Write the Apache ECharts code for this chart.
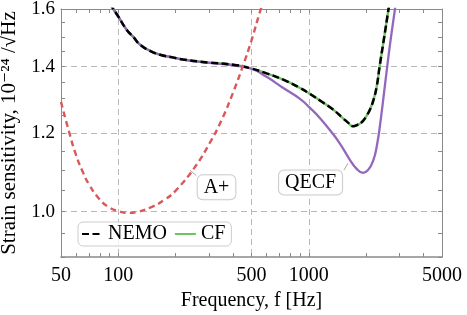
<!DOCTYPE html>
<html>
<head>
<meta charset="utf-8">
<script src="https://cdn.jsdelivr.net/npm/echarts@6/dist/echarts.min.js"></script>
<style>html,body{margin:0;padding:0;background:#fff;}#c{width:467px;height:315px;}</style>
</head>
<body>
<div id="c"></div>
<script>
// ---- data ----
var freqAplus = [50, 55, 60, 65, 70, 80, 90, 100, 113, 125, 150, 175, 200, 250, 300, 350, 400, 450, 500, 560, 600];
var valAplus  = [1.29, 1.205, 1.14, 1.097, 1.066, 1.028, 1.009, 1.001, 0.997, 0.999, 1.011, 1.028, 1.050, 1.106, 1.170, 1.239, 1.318, 1.401, 1.488, 1.60, 1.66];

var freqNemo = [90, 94.1, 100, 110.5, 120, 130, 146.6, 165.4, 190, 218.7, 300, 400, 490, 600, 734, 894, 1013, 1150, 1341, 1508, 1600, 1705, 1800, 1900, 2000, 2100, 2185, 2270, 2352, 2480, 2619, 2700];
var valNemo  = [1.622, 1.6, 1.572, 1.525, 1.499, 1.473, 1.452, 1.439, 1.431, 1.423, 1.413, 1.406, 1.395, 1.378, 1.358, 1.333, 1.314, 1.293, 1.267, 1.242, 1.230, 1.219, 1.223, 1.231, 1.247, 1.269, 1.296, 1.336, 1.40, 1.494, 1.60, 1.667];
var valCF    = [1.622, 1.6, 1.572, 1.525, 1.499, 1.473, 1.452, 1.439, 1.431, 1.423, 1.413, 1.406, 1.395, 1.378, 1.358, 1.333, 1.314, 1.293, 1.267, 1.242, 1.230, 1.219, 1.223, 1.231, 1.247, 1.269, 1.296, 1.336, 1.40, 1.494, 1.60, 1.667];

var freqQecf = [90, 94.1, 100, 110.5, 120, 130, 146.6, 165.4, 190, 218.7, 300, 400, 500, 600, 734.6, 898.6, 1014, 1145, 1340, 1458, 1586, 1645, 1768, 1924, 2045, 2172, 2279, 2391, 2510, 2666, 2833, 2937];
var valQecf  = [1.622, 1.6, 1.572, 1.525, 1.499, 1.473, 1.452, 1.439, 1.431, 1.423, 1.412, 1.404, 1.393, 1.367, 1.332, 1.299, 1.272, 1.242, 1.197, 1.170, 1.140, 1.127, 1.106, 1.094, 1.101, 1.124, 1.167, 1.243, 1.342, 1.473, 1.601, 1.69];

var xTickValues  = [50, 60, 70, 80, 90, 100, 200, 300, 400, 500, 600, 700, 800, 900, 1000, 2000, 3000, 4000, 5000];
var xLabelValues = [50, 100, 500, 1000, 5000];
var xLabelTexts  = ['50', '100', '500', '1000', '5000'];
var xGridValues  = [100, 500, 1000];

var yTickValues  = [0.9, 0.95, 1.0, 1.05, 1.1, 1.15, 1.2, 1.25, 1.3, 1.35, 1.4, 1.45, 1.5, 1.55, 1.6];
var yLabelValues = [1.0, 1.2, 1.4, 1.6];
var yLabelTexts  = ['1.0', '1.2', '1.4', '1.6'];
var yGridValues  = [1.0, 1.2, 1.4];

function zip(a, b) { return a.map(function (v, i) { return [v, b[i]]; }); }
function labelFor(values, texts) {
  return function (v) {
    for (var i = 0; i < values.length; i++) { if (Math.abs(values[i] - v) < 1e-6 * values[i]) return texts[i]; }
    return '';
  };
}

var FONT = '"Liberation Serif", "DejaVu Serif", serif';
var frameColor = '#8a8a8a';
var gridStyle = { color: '#b8b8b8', width: 1, type: [6, 4] };

function xAx(extra) {
  return Object.assign({
    type: 'log', logBase: 10, min: 50, max: 5000, gridIndex: 0,
    axisLine: { show: false }, axisTick: { show: false }, axisLabel: { show: false },
    splitLine: { show: false }, minorTick: { show: false }, minorSplitLine: { show: false }
  }, extra);
}
function yAx(extra) {
  return Object.assign({
    type: 'log', logBase: 10, min: 0.9, max: 1.6, gridIndex: 0,
    axisLine: { show: false }, axisTick: { show: false }, axisLabel: { show: false },
    splitLine: { show: false }, minorTick: { show: false }, minorSplitLine: { show: false }
  }, extra);
}

var lineCommon = { type: 'line', xAxisIndex: 0, yAxisIndex: 0, showSymbol: false, symbol: 'none',
  smooth: 0.5, clip: true };

var chart = echarts.init(document.getElementById('c'), null, { renderer: 'canvas' });
chart.setOption({
  animation: false,
  backgroundColor: '#fff',
  grid: { left: 61, right: 25, top: 9, bottom: 58, containLabel: false, outerBoundsMode: 'none' },
  xAxis: [
    xAx({
      position: 'bottom',
      axisLine: { show: true, onZero: false, lineStyle: { color: frameColor, width: 1.5 } },
      axisTick: { show: true, inside: true, length: 4, customValues: xTickValues, lineStyle: { color: frameColor } },
      axisLabel: { show: true, customValues: xLabelValues, formatter: labelFor(xLabelValues, xLabelTexts),
        margin: 9, fontSize: 20, fontFamily: FONT, color: '#000' },
      name: 'Frequency, f [Hz]', nameLocation: 'middle', nameGap: 25,
      nameTextStyle: { fontSize: 20, fontFamily: FONT, color: '#000' }
    }),
    xAx({ position: 'bottom', axisTick: { show: false, customValues: xGridValues },
      splitLine: { show: true, lineStyle: gridStyle } }),
    xAx({ position: 'top',
      axisLine: { show: true, onZero: false, lineStyle: { color: frameColor, width: 1 } },
      axisTick: { show: true, inside: true, length: 4, customValues: xTickValues, lineStyle: { color: frameColor } } })
  ],
  yAxis: [
    yAx({
      position: 'left',
      axisLine: { show: true, onZero: false, lineStyle: { color: frameColor, width: 1 } },
      axisTick: { show: true, inside: true, length: 4, customValues: yTickValues, lineStyle: { color: frameColor } },
      axisLabel: { show: true, customValues: yLabelValues, formatter: labelFor(yLabelValues, yLabelTexts),
        margin: 6, fontSize: 19, fontFamily: FONT, color: '#000' },
      name: 'Strain sensitivity, 10\u207B\u00B2\u2074 /\u221AHz', nameLocation: 'middle', nameGap: 31, nameRotate: 90,
      nameTextStyle: { fontSize: 21, fontFamily: FONT, color: '#000' }
    }),
    yAx({ position: 'left', axisTick: { show: false, customValues: yGridValues },
      splitLine: { show: true, lineStyle: gridStyle } }),
    yAx({ position: 'right',
      axisLine: { show: true, onZero: false, lineStyle: { color: frameColor, width: 1 } },
      axisTick: { show: true, inside: true, length: 4, customValues: yTickValues, lineStyle: { color: frameColor } } })
  ],
  legend: {
    data: ['NEMO', 'CF'],
    left: 78, top: 222,
    orient: 'horizontal',
    itemWidth: 21, itemHeight: 12, itemGap: 7,
    padding: [2, 6, 2, 3],
    borderColor: '#cccccc', borderWidth: 1, borderRadius: 5,
    backgroundColor: 'rgba(255,255,255,0.8)',
    itemStyle: { opacity: 0 },
    textStyle: { fontSize: 20, fontFamily: FONT, color: '#000' }
  },
  series: [
    Object.assign({}, lineCommon, {
      name: 'CF', data: zip(freqNemo, valCF),
      lineStyle: { color: '#6cc65f', width: 2.4 }, itemStyle: { color: '#6cc65f' }, z: 3
    }),
    Object.assign({}, lineCommon, {
      name: 'QECF', data: zip(freqQecf, valQecf),
      lineStyle: { color: '#9467bd', width: 2.3 }, itemStyle: { color: '#9467bd' }, z: 4,
      markPoint: {
        silent: true, symbol: 'circle', symbolSize: 1, itemStyle: { color: 'rgba(0,0,0,0)' },
        label: { show: true, position: 'inside', formatter: 'QECF', fontSize: 20, fontFamily: FONT, color: '#000',
          backgroundColor: 'rgba(255,255,255,0.9)', borderColor: '#cccccc', borderWidth: 1, borderRadius: 5, padding: [2, 6, 2, 6] },
        data: [{ coord: [1021, 1.070] }]
      },
      markLine: {
        silent: true, symbol: 'none', label: { show: false }, lineStyle: { color: '#aaaaaa', width: 1, type: 'solid' },
        data: [[{ coord: [1528, 1.101] }, { coord: [1607, 1.119] }]]
      }
    }),
    Object.assign({}, lineCommon, {
      name: 'NEMO', data: zip(freqNemo, valNemo),
      lineStyle: { color: '#000000', width: 2.5, type: [7, 3.5] }, itemStyle: { color: '#000' }, z: 5
    }),
    Object.assign({}, lineCommon, {
      name: 'A+', data: zip(freqAplus, valAplus),
      lineStyle: { color: '#d9595a', width: 2.4, type: [6, 4] }, itemStyle: { color: '#d9595a' }, z: 6,
      markPoint: {
        silent: true, symbol: 'circle', symbolSize: 1, itemStyle: { color: 'rgba(0,0,0,0)' },
        label: { show: true, position: 'inside', formatter: 'A+', fontSize: 20, fontFamily: FONT, color: '#000',
          backgroundColor: 'rgba(255,255,255,0.9)', borderColor: '#cccccc', borderWidth: 1, borderRadius: 5, padding: [2, 6, 2, 6] },
        data: [{ coord: [327.6, 1.058] }]
      },
      markLine: {
        silent: true, symbol: 'none', label: { show: false }, lineStyle: { color: '#aaaaaa', width: 1, type: 'solid' },
        data: [[{ coord: [237.6, 1.101] }, { coord: [256.6, 1.087] }]]
      }
    })
  ]
});
</script>
</body>
</html>
